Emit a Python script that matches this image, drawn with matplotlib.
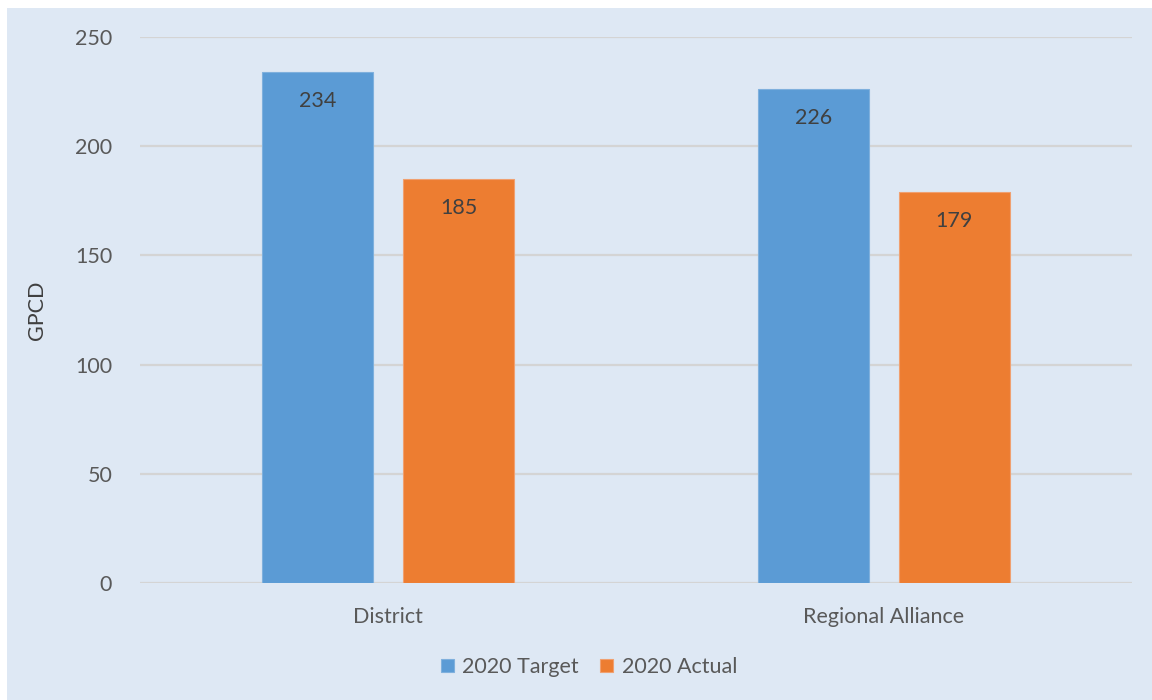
import numpy as np
import matplotlib.pyplot as plt
from matplotlib.patches import Rectangle

categories = ['District', 'Regional Alliance']
series_names = ['2020 Target', '2020 Actual']
target = [234, 226]
actual = [185, 179]
yticks = [0, 50, 100, 150, 200, 250]

plt.rcParams['font.family'] = ['Lato', 'DejaVu Sans']
text_color = '#595959'
bg = '#dee8f4'
fs = 15.5

fig = plt.figure(figsize=(11.52, 7), dpi=100, facecolor=bg)
# thin white strip along the top and left edges
fig.patches.append(Rectangle((0, 0), 7 / 1152, 1, transform=fig.transFigure,
                             facecolor='white', edgecolor='none', zorder=-1))
fig.patches.append(Rectangle((0, 1 - 8 / 700), 1, 8 / 700, transform=fig.transFigure,
                             facecolor='white', edgecolor='none', zorder=-1))

ax = fig.add_axes([140 / 1152, 1 - 583 / 700, (1132 - 140) / 1152, (583 - 37) / 700])
ax.set_facecolor('none')

x = np.arange(len(categories))
width = 0.224
offset = 0.142
b1 = ax.bar(x - offset, target, width, color='#5b9bd5', edgecolor='#7fb0dd', linewidth=0.8,
            label=series_names[0], zorder=3)
b2 = ax.bar(x + offset, actual, width, color='#ed7d31', edgecolor='#f0a070', linewidth=0.8,
            label=series_names[1], zorder=3)

for bars, vals in [(b1, target), (b2, actual)]:
    for rect, v in zip(bars, vals):
        ax.annotate(str(v), (rect.get_x() + rect.get_width() / 2, v), xytext=(0, -39),
                    textcoords='offset pixels',
                    ha='center', va='bottom', fontsize=fs, color='#404040', zorder=4)

ax.set_xlim(-0.5, 1.5)
ax.set_ylim(0, 250)
ax.set_yticks(yticks)
ax.set_xticks(x)
ax.set_xticklabels(categories)
ax.grid(axis='y', color='#d4d4d4', linewidth=1.6, zorder=0)
ax.set_axisbelow(True)
ax.tick_params(axis='both', length=0, labelsize=fs, labelcolor=text_color)
ax.tick_params(axis='y', pad=20)
ax.tick_params(axis='x', pad=17)
for s in ax.spines.values():
    s.set_visible(False)
ax.set_ylabel('GPCD', fontsize=fs, color='#404040', labelpad=20)

leg = fig.legend(loc='center', bbox_to_anchor=(589 / 1152, 1 - 667 / 700), ncol=2,
                 frameon=False, fontsize=fs, handlelength=0.6, handleheight=0.6,
                 handletextpad=0.4, columnspacing=1.0)
for t in leg.get_texts():
    t.set_color(text_color)

fig.savefig('out.png', dpi=100, facecolor=bg)
